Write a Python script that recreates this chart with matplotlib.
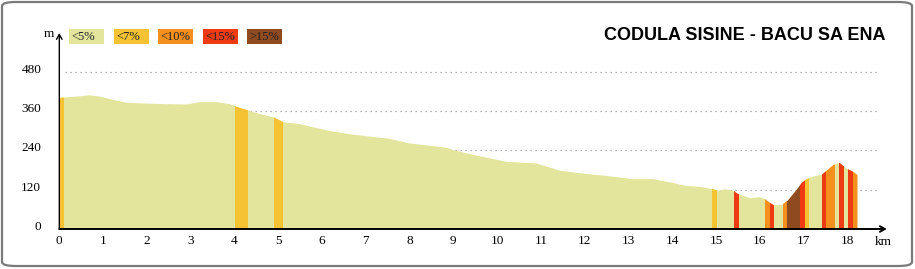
import numpy as np
import matplotlib
matplotlib.use("Agg")
import matplotlib.pyplot as plt
from matplotlib.patches import Rectangle, FancyBboxPatch, Polygon
from matplotlib.transforms import ScaledTranslation

W, H, DPI = 915, 269, 100

TITLE = "CODULA SISINE - BACU SA ENA"

# elevation profile
dist_km = [0, 0.47, 0.7, 0.93, 1.23, 1.54, 1.92, 2.45, 2.91, 3.21, 3.6, 3.9,
           4.05, 4.28, 4.58, 4.89, 5.12, 5.5, 5.65, 6.18, 6.64, 7.1, 7.55, 8.0,
           8.47, 8.85, 9.0, 9.46, 10.22, 10.9, 11.44, 11.9, 12.5, 13.1, 13.57,
           14.0, 14.33, 14.63, 14.94, 15.05, 15.2, 15.4, 15.5, 15.78, 16.0,
           16.12, 16.23, 16.32, 16.5, 16.65, 16.84, 16.96, 17.07, 17.22, 17.41,
           17.53, 17.68, 17.82, 17.98, 18.13, 18.23]
elev_m = [400, 405, 408, 404, 394, 385, 383, 381, 380, 387, 387, 381,
          373, 363, 351, 341, 326, 320, 315, 299, 289, 282, 275, 261,
          254, 248, 241, 226, 205, 200, 178, 170, 162, 152, 152,
          141, 131, 129, 121, 117, 121, 117, 107, 94, 97,
          91, 80, 73, 73, 88, 119, 141, 152, 160, 165,
          178, 195, 202, 185, 175, 165]

# gradient classes
classes = ["<5%", "<7%", "<10%", "<15%", ">15%"]
class_colors = ["#e4e59c", "#f4c232", "#f5901e", "#ee3b14", "#8f4a1f"]

# steeper stretches (everything else is <5%)
seg_start = [0.0, 4.02, 4.90, 14.92, 15.42, 16.13, 16.23, 16.52, 16.63, 16.93,
             17.04, 17.42, 17.51, 17.82, 18.02, 18.12]
seg_end = [0.10, 4.30, 5.11, 15.02, 15.53, 16.23, 16.32, 16.63, 16.93, 17.04,
           17.13, 17.51, 17.72, 17.92, 18.12, 18.24]
seg_class = [1, 1, 1, 1, 3, 2, 3, 2, 4, 3, 1, 3, 2, 3, 3, 2]

x_ticks = list(range(19))
y_ticks = [0, 120, 240, 360, 480]


def fx(px):
    return px / W


def fy(py):
    return 1 - py / H


fig = plt.figure(figsize=(W / DPI, H / DPI), dpi=DPI)
fig.patch.set_facecolor("white")

# frame
fig.add_artist(FancyBboxPatch((fx(2), fy(266)), fx(910), (264) / H,
                              boxstyle="round,pad=0,rounding_size=0.015",
                              transform=fig.transFigure, facecolor="none",
                              edgecolor="#7a7a7a", lw=1.6))

# axes: km 0 at x=59.3px, 43.78 px/km; 0 m at y=229px, 0.3277 px/m
x0, kx = 59.3, 43.78
y0, ky = 229.0, 0.3277
xmax, ymax = 19, 600
ax = fig.add_axes([fx(x0), fy(y0), kx * xmax / W, ky * ymax / H])
ax.set_xlim(0, xmax)
ax.set_ylim(0, ymax)
ax.patch.set_alpha(0)
for s in ax.spines.values():
    s.set_visible(False)

# dotted grid
ax.hlines(y_ticks[1:], 0.12, 18.7, colors="#9a9a9a", linestyles=(0, (1, 3)),
          lw=0.9, zorder=1)

# profile
pts = [(0, 0)] + list(zip(dist_km, elev_m)) + [(dist_km[-1], 0)]
prof = Polygon(pts, closed=True, facecolor=class_colors[0], edgecolor="none",
               zorder=2)
ax.add_patch(prof)
for a, b, c in zip(seg_start, seg_end, seg_class):
    sp = ax.axvspan(a, b, color=class_colors[c], lw=0, zorder=3)
    sp.set_clip_path(prof)

# axis arrows
ax.annotate("", xy=(18.9, 0), xytext=(0, 0), annotation_clip=False,
            arrowprops=dict(arrowstyle="->,head_length=0.35,head_width=0.2",
                            lw=1.4, color="black", shrinkA=0, shrinkB=0),
            zorder=5)
ax.annotate("", xy=(0, 598), xytext=(0, 0), annotation_clip=False,
            arrowprops=dict(arrowstyle="->,head_length=0.35,head_width=0.2",
                            lw=1.0, color="black", shrinkA=0, shrinkB=0),
            zorder=5)

serif = ["Liberation Serif", "DejaVu Serif"]
ax.set_xticks(x_ticks)
ax.set_xticklabels([str(t) for t in x_ticks], family=serif, fontsize=9.5)
ax.set_yticks(y_ticks)
ax.set_yticklabels([str(t) for t in y_ticks], family=serif, fontsize=9.5)
ax.tick_params(axis="x", length=0, pad=4)
ax.tick_params(axis="y", length=0, pad=13)
for lab in ax.get_yticklabels():
    lab.set_transform(lab.get_transform() +
                      ScaledTranslation(0, 3.5 / DPI, fig.dpi_scale_trans))

fig.text(fx(883), fy(242), "km", family=serif, fontsize=9.5, ha="center",
         va="center")
fig.text(fx(49), fy(34), "m", family=serif, fontsize=9.5, ha="center",
         va="center")

# legend boxes
lx = [69, 114, 158, 203, 247]
for x, lab, col in zip(lx, classes, class_colors):
    fig.add_artist(Rectangle((fx(x), fy(44)), fx(35), 15 / H,
                             transform=fig.transFigure, facecolor=col,
                             edgecolor="none"))
    fig.text(fx(x + 2), fy(37), lab, family=serif, fontsize=9, ha="left",
             va="center", color="#222222")

fig.text(fx(745), fy(35), TITLE, family=["Liberation Sans", "DejaVu Sans"],
         fontsize=13, fontweight="bold", ha="center", va="center")

fig.savefig("out.png", dpi=DPI, facecolor="white")
